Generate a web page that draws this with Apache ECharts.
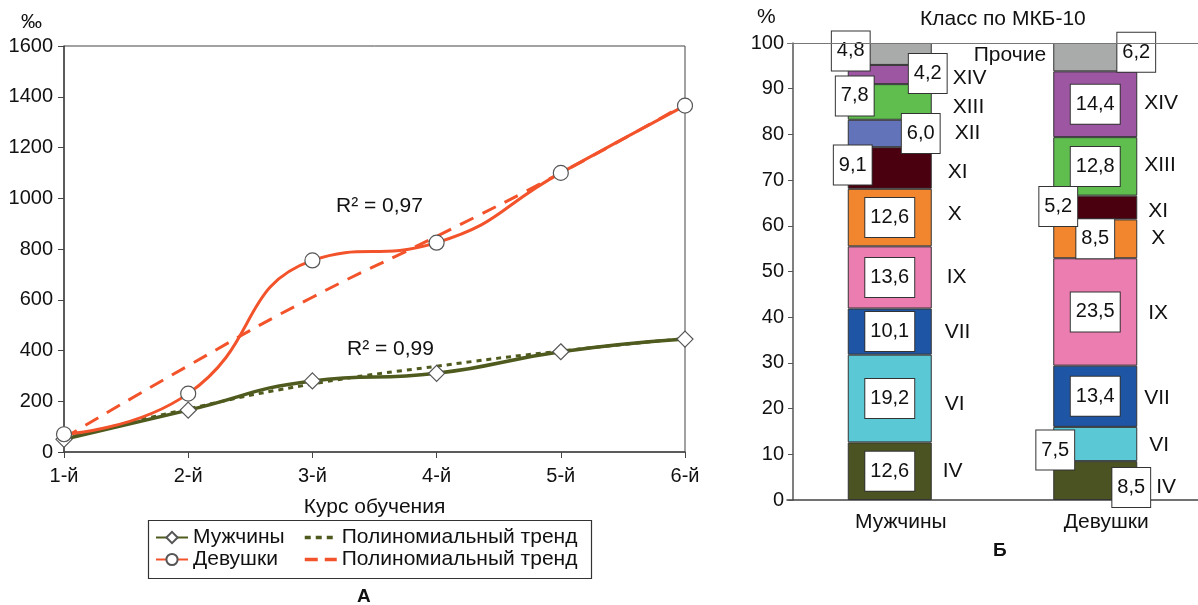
<!DOCTYPE html>
<html>
<head>
<meta charset="utf-8">
<script src="https://cdn.jsdelivr.net/npm/echarts@6/dist/echarts.min.js"></script>
<style>
  html, body { margin: 0; padding: 0; background: #fff; }
  #chart { width: 1198px; height: 605px; }
</style>
</head>
<body>
<div id="chart"></div>
<script>
// ---------- DATA: panel A ----------
const years = ['1-й', '2-й', '3-й', '4-й', '5-й', '6-й'];
const menRate = [50, 165, 280, 310, 395, 445];
const womenRate = [70, 230, 755, 825, 1100, 1365];
const menTrend = [52, 170, 268, 338, 398, 447];
const womenTrend = [55, 340, 610, 850, 1100, 1370];
const menR2 = '0,99';
const womenR2 = '0,97';

// ---------- DATA: panel Б ----------
const groups = ['Мужчины', 'Девушки'];
const classes = ['IV', 'VI', 'VII', 'IX', 'X', 'XI', 'XII', 'XIII', 'XIV', 'Прочие'];
const menShare = [12.6, 19.2, 10.1, 13.6, 12.6, 9.1, 6.0, 7.8, 4.2, 4.8];
const womenShare = [8.5, 7.5, 13.4, 23.5, 8.5, 5.2, null, 12.8, 14.4, 6.2];

// ---------- STYLES ----------
const FONT = 'Liberation Sans, Arial, sans-serif';
const NUM = 20;   // numbers
const TXT = 21;   // words
const OLIVE = '#4f5b1e';
const ORANGE = '#f3532b';
const classColors = ['#4c5323', '#5bc8d6', '#1f55a5', '#ec7db1', '#f2862e', '#4b0010', '#6373b9', '#5fbe4e', '#9c56a2', '#a9aaaa'];
// value box offsets [dx, dy] (null = centered inside)
const valueOffsets = [
  [null, null, null, null, null, [-37, -3], [31, 0], [-35, -6], [38, -1], [-39, -3]],
  [[36, 7], [-40, 6], null, null, null, [-37, -1], null, null, null, [41, -5]]
];
// class-name label offsets [dx from bar edge, dy]
const classOffsets = [
  [[11, 0], [13, 6], [13, 1], [15, 0], [16, -3], [16, 4], [23, 0], [21, 5], [21, 4], [42, 1]],
  [[19, 7], [12, 1], [7, 2], [11, 1], [14, -1], [11, 4], [0, 0], [7, -1], [7, -1], null]
];
const fmt = v => (v == null ? '' : Number(v).toFixed(1).replace('.', ','));
const shares = [menShare, womenShare];

const series = [
  {
    name: 'Полиномиальный тренд (М)', type: 'line', xAxisIndex: 0, yAxisIndex: 0,
    data: menTrend, smooth: true, symbol: 'none', z: 2,
    lineStyle: { color: OLIVE, width: 3, type: [5, 5] }, itemStyle: { color: OLIVE }
  },
  {
    name: 'Полиномиальный тренд (Д)', type: 'line', xAxisIndex: 0, yAxisIndex: 0,
    data: womenTrend, smooth: true, symbol: 'none', z: 2,
    lineStyle: { color: ORANGE, width: 3, type: [15, 10] }, itemStyle: { color: ORANGE }
  },
  {
    name: 'Мужчины', type: 'line', xAxisIndex: 0, yAxisIndex: 0,
    data: menRate, smooth: 0.5, symbol: 'diamond', symbolSize: 16, z: 3,
    lineStyle: { color: OLIVE, width: 3.5 },
    itemStyle: { color: '#fff', borderColor: '#555', borderWidth: 1.2 }
  },
  {
    name: 'Девушки', type: 'line', xAxisIndex: 0, yAxisIndex: 0,
    data: womenRate, smooth: 0.5, symbol: 'circle', symbolSize: 15, z: 3,
    lineStyle: { color: ORANGE, width: 3 },
    itemStyle: { color: '#fff', borderColor: '#555', borderWidth: 1.2 }
  }
];

classes.forEach((cls, k) => {
  series.push({
    name: cls, type: 'bar', xAxisIndex: 1, yAxisIndex: 1, stack: 'share', barWidth: 84,
    itemStyle: { color: classColors[k], borderColor: '#333', borderWidth: 1 },
    label: {
      show: true, position: 'inside', formatter: p => fmt(p.value),
      backgroundColor: '#fff', borderColor: '#333', borderWidth: 1,
      padding: [10, 5, 9, 5], fontSize: NUM, color: '#111', fontFamily: FONT
    },
    data: groups.map((g, gi) => {
      const off = valueOffsets[gi][k];
      const item = { value: shares[gi][k] };
      if (off) item.label = { offset: off };
      return item;
    }),
    z: 2
  });
});
classes.forEach((cls, k) => {
  series.push({
    name: cls + ' ', type: 'bar', xAxisIndex: 1, yAxisIndex: 1, stack: 'names', barWidth: 84,
    barGap: '-100%', silent: true,
    itemStyle: { color: 'rgba(0,0,0,0)' },
    label: {
      show: true, position: 'right', distance: 0, formatter: cls,
      fontSize: TXT, color: '#111', fontFamily: FONT
    },
    data: groups.map((g, gi) => {
      const off = classOffsets[gi][k];
      const item = { value: shares[gi][k] };
      item.label = off ? { offset: off } : { show: false };
      return item;
    }),
    z: 1
  });
});
// top line at 100 % for panel Б
series[4].markLine = {
  silent: true, symbol: 'none', label: { show: false },
  lineStyle: { color: '#777', width: 1, type: 'solid' },
  data: [{ yAxis: 100 }]
};

const hiddenSymbol = { color: 'rgba(0,0,0,0)', borderWidth: 0, opacity: 0 };
const legendCommon = {
  orient: 'vertical', itemGap: 1, itemWidth: 32, itemHeight: 14,
  textStyle: { fontSize: TXT, color: '#111' },
  formatter: n => n.replace(/ \((М|Д)\)$/, '')
};

const chart = echarts.init(document.getElementById('chart'), null, { renderer: 'canvas' });
chart.setOption({
  animation: false,
  backgroundColor: '#fff',
  textStyle: { fontFamily: FONT, color: '#111' },
  grid: [
    { left: 64, top: 46, width: 621, height: 406, show: true, borderColor: '#444', borderWidth: 1, backgroundColor: 'transparent' },
    { left: 787, right: -23, top: 43, height: 457 }
  ],
  xAxis: [
    {
      gridIndex: 0, type: 'category', data: years, boundaryGap: false,
      axisLine: { lineStyle: { color: '#444', width: 1.5 } },
      axisTick: { show: true, length: 6, lineStyle: { color: '#444' } },
      axisLabel: { fontSize: NUM, color: '#111', margin: 14 },
      name: 'Курс обучения', nameLocation: 'middle', nameGap: 45,
      nameTextStyle: { fontSize: TXT, color: '#111' }
    },
    {
      gridIndex: 1, type: 'category', data: groups,
      axisLine: { lineStyle: { color: '#444', width: 1.5 } },
      axisTick: { show: false },
      axisLabel: { fontSize: TXT, color: '#111', margin: 12, padding: [0, 0, 0, 22] }
    }
  ],
  yAxis: [
    {
      gridIndex: 0, type: 'value', min: 0, max: 1600, interval: 200,
      axisLine: { show: true, lineStyle: { color: '#444', width: 1.5 } },
      axisTick: { show: true, length: 6, lineStyle: { color: '#444' } },
      axisLabel: { fontSize: NUM, color: '#111', margin: 11, formatter: v => String(v) },
      splitLine: { show: false }
    },
    {
      gridIndex: 1, type: 'value', min: 0, max: 100, interval: 10, offset: -6,
      axisLine: { show: true, lineStyle: { color: '#555', width: 1.5 } },
      axisTick: { show: true, length: 5, lineStyle: { color: '#555' } },
      axisLabel: { fontSize: NUM, color: '#111', margin: 9, formatter: v => String(v) },
      splitLine: { show: false }
    }
  ],
  legend: [
    Object.assign({}, legendCommon, {
      left: 149, top: 521,
      padding: [6, 0, 8, 6],
      data: ['Мужчины', 'Девушки']
    }),
    Object.assign({}, legendCommon, {
      left: 303, top: 521,
      padding: [6, 10, 8, 0],
      data: [
        { name: 'Полиномиальный тренд (М)', itemStyle: hiddenSymbol, lineStyle: { width: 3.5, type: [6, 5] } },
        { name: 'Полиномиальный тренд (Д)', itemStyle: hiddenSymbol, lineStyle: { width: 3.5, type: [13, 7] } }
      ]
    })
  ],
  graphic: [
    // legend frame around both legend columns
    { type: 'rect', left: 146, top: 518, shape: { width: 443, height: 58 }, style: { fill: 'none', stroke: '#333', lineWidth: 1.2 }, z: -1 },
    { type: 'text', left: 21, top: 12, style: { text: '‰', fontSize: TXT, fill: '#111', fontFamily: FONT } },
    { type: 'text', left: 757, top: 7, style: { text: '%', fontSize: TXT, fill: '#111', fontFamily: FONT } },
    { type: 'text', left: 920, top: 9, style: { text: 'Класс по МКБ-10', fontSize: TXT, fill: '#111', fontFamily: FONT } },
    { type: 'text', left: 336, top: 196, style: { text: 'R² = ' + womenR2, fontSize: TXT, fill: '#111', fontFamily: FONT } },
    { type: 'text', left: 347, top: 339, style: { text: 'R² = ' + menR2, fontSize: TXT, fill: '#111', fontFamily: FONT } },
    { type: 'text', left: 357, top: 587, style: { text: 'А', fontSize: 19, fontWeight: 'bold', fill: '#111', fontFamily: FONT } },
    { type: 'text', left: 993, top: 541, style: { text: 'Б', fontSize: 19, fontWeight: 'bold', fill: '#111', fontFamily: FONT } }
  ],
  series: series
});
</script>
</body>
</html>
